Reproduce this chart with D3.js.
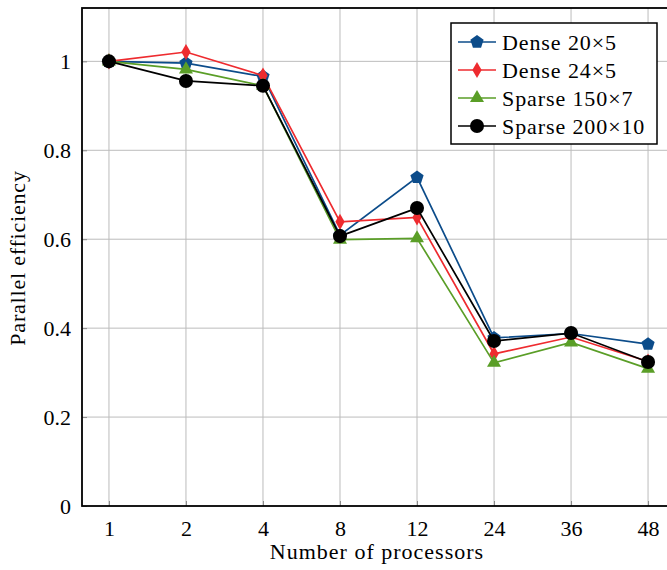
<!DOCTYPE html>
<html lang="en">
<head>
  <meta charset="UTF-8" />
  <script src="https://d3js.org/d3.v7.min.js"></script>
  <style>
    body { margin: 0; background: #fff; }
  </style>
</head>
<body>
  <div id="chart"></div>

  <script>
    // data
    const procs = ["1", "2", "4", "8", "12", "24", "36", "48"];
    const seriesNames = ["Dense 20\u00d75", "Dense 24\u00d75", "Sparse 150\u00d77", "Sparse 200\u00d710"];
    const dense20x5 = [1.0, 0.996, 0.966, 0.609, 0.739, 0.378, 0.388, 0.364];
    const dense24x5 = [1.0, 1.021, 0.968, 0.639, 0.649, 0.342, 0.380, 0.325];
    const sparse150x7 = [1.0, 0.982, 0.945, 0.599, 0.602, 0.322, 0.368, 0.309];
    const sparse200x10 = [1.0, 0.956, 0.945, 0.607, 0.670, 0.371, 0.389, 0.324];
    const yTicks = [0, 0.2, 0.4, 0.6, 0.8, 1];

    const W = 667, H = 570;
    const FONT = "Liberation Serif";
    const plot = { left: 82, top: 8, right: 675, bottom: 506 };

    // pentagon marker, d3.symbol has none
    const symbolPentagon = {
      draw(ctx, size) {
        const r = Math.sqrt(size / 2.378);
        for (let i = 0; i < 5; i++) {
          const a = -Math.PI / 2 + i * 2 * Math.PI / 5;
          const px = r * Math.cos(a), py = r * Math.sin(a);
          if (i === 0) ctx.moveTo(px, py); else ctx.lineTo(px, py);
        }
        ctx.closePath();
      }
    };

    const series = [
      { name: seriesNames[0], values: dense20x5, color: "#0c4c8a", symbol: symbolPentagon, size: 115 },
      { name: seriesNames[1], values: dense24x5, color: "#ee2b2f", symbol: d3.symbolDiamond, size: 75 },
      { name: seriesNames[2], values: sparse150x7, color: "#5a9e27", symbol: d3.symbolTriangle, size: 85 },
      { name: seriesNames[3], values: sparse200x10, color: "#000000", symbol: d3.symbolCircle, size: 155 }
    ];

    const svg = d3.select("#chart").append("svg")
      .attr("width", W).attr("height", H)
      .attr("font-family", FONT);

    const x = d3.scaleLinear().domain([-0.35, procs.length - 1 + 0.35]).range([plot.left, plot.right]);
    const y = d3.scaleLinear().domain([0, 1.12]).range([plot.bottom, plot.top]);

    // grid
    const grid = svg.append("g").attr("stroke", "#bcbcbc").attr("stroke-width", 1);
    grid.selectAll("line.v").data(procs).enter().append("line")
      .attr("x1", (d, i) => x(i)).attr("x2", (d, i) => x(i))
      .attr("y1", plot.top).attr("y2", plot.bottom);
    grid.selectAll("line.h").data(yTicks.slice(1)).enter().append("line")
      .attr("x1", plot.left).attr("x2", plot.right)
      .attr("y1", d => y(d)).attr("y2", d => y(d));

    // axes, inner tick marks in darker grey
    const xAxis = d3.axisBottom(x).tickValues(d3.range(procs.length))
      .tickFormat(i => procs[i]).tickSizeInner(-5).tickSizeOuter(0).tickPadding(14);
    svg.append("g").attr("transform", `translate(0,${plot.bottom})`).call(xAxis)
      .attr("font-family", FONT).attr("font-size", 22)
      .call(g => g.select(".domain").remove())
      .call(g => g.selectAll(".tick line").attr("stroke", "#8a8a8a"))
      .selectAll("text").attr("fill", "#000");

    const yAxis = d3.axisLeft(y).tickValues(yTicks)
      .tickFormat(d => d === 0 || d === 1 ? d3.format("d")(d) : d3.format(".1f")(d))
      .tickSizeInner(-5).tickSizeOuter(0).tickPadding(11);
    svg.append("g").attr("transform", `translate(${plot.left},0)`).call(yAxis)
      .attr("font-family", FONT).attr("font-size", 22)
      .call(g => g.select(".domain").remove())
      .call(g => g.selectAll(".tick line").attr("stroke", "#8a8a8a"))
      .selectAll("text").attr("fill", "#000");

    // series
    const line = d3.line().x((d, i) => x(i)).y(d => y(d));
    const marks = svg.append("g");
    series.forEach(s => {
      const g = marks.append("g");
      g.append("path").datum(s.values)
        .attr("d", line).attr("fill", "none")
        .attr("stroke", s.color).attr("stroke-width", 1.7);
      g.selectAll("path.m").data(s.values).enter().append("path")
        .attr("class", "m")
        .attr("transform", (d, i) => `translate(${x(i)},${y(d)})`)
        .attr("d", d3.symbol().type(s.symbol).size(s.size))
        .attr("fill", s.color);
    });

    // frame
    svg.append("rect")
      .attr("x", plot.left).attr("y", plot.top)
      .attr("width", plot.right - plot.left).attr("height", plot.bottom - plot.top)
      .attr("fill", "none").attr("stroke", "#000").attr("stroke-width", 1.8);

    // axis titles
    svg.append("text")
      .attr("x", 377).attr("y", 559)
      .attr("text-anchor", "middle").attr("font-family", FONT).attr("font-size", 22)
      .attr("letter-spacing", 1)
      .text("Number of processors");
    svg.append("text")
      .attr("transform", `translate(25,${(plot.top + plot.bottom) / 2 + 1}) rotate(-90)`)
      .attr("text-anchor", "middle").attr("font-family", FONT).attr("font-size", 22)
      .attr("letter-spacing", 0.8)
      .text("Parallel efficiency");

    // legend
    const lg = svg.append("g").attr("transform", "translate(451,23)");
    lg.append("rect").attr("width", 206).attr("height", 121)
      .attr("fill", "#fff").attr("stroke", "#000").attr("stroke-width", 1.5);
    series.forEach((s, i) => {
      const row = lg.append("g").attr("transform", `translate(0,${19 + i * 28})`);
      row.append("line").attr("x1", 7).attr("x2", 45)
        .attr("stroke", s.color).attr("stroke-width", 1.7);
      row.append("path").attr("transform", "translate(26,0)")
        .attr("d", d3.symbol().type(s.symbol).size(s.size))
        .attr("fill", s.color);
      row.append("text").attr("x", 51).attr("y", 7.5)
        .attr("font-family", FONT).attr("font-size", 22).attr("letter-spacing", 0.9)
        .text(s.name);
    });
  </script>
</body>
</html>
